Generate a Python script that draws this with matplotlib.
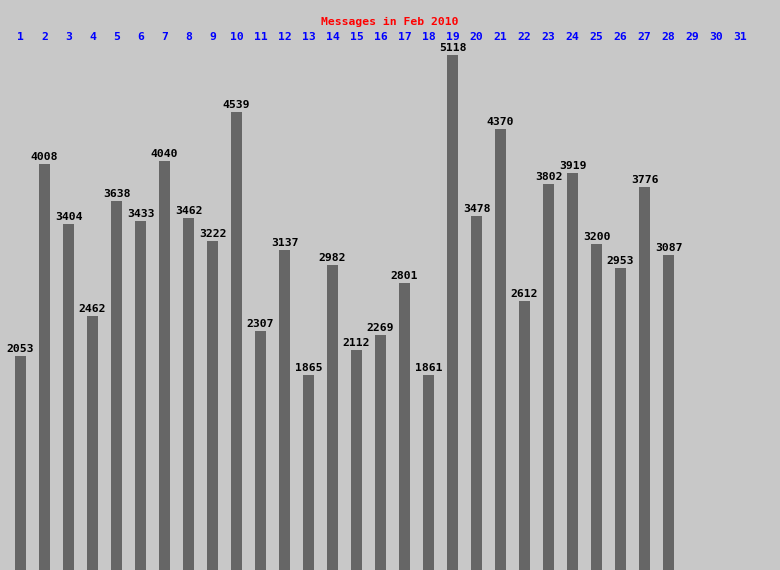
import matplotlib.pyplot as plt
import numpy as np

title = "Messages in Feb 2010"
days = list(range(1, 32))
counts = [2053, 4008, 3404, 2462, 3638, 3433, 4040, 3462, 3222, 4539,
          2307, 3137, 1865, 2982, 2112, 2269, 2801, 1861, 5118, 3478,
          4370, 2612, 3802, 3919, 3200, 2953, 3776, 3087]

W, H = 780, 570
fig = plt.figure(figsize=(W / 100, H / 100), dpi=100)
fig.patch.set_facecolor('#c8c8c8')
ax = fig.add_axes([0, 0, 1, 1])
ax.set_facecolor('#c8c8c8')
ax.axis('off')

# day d is centred at 20.5 + 24*(d-1) px
ax.set_xlim(1 - 20.5 / 24, 1 + (W - 20.5) / 24)
base = -124
ax.set_ylim(base, 5680)

font = dict(family='DejaVu Sans Mono', fontweight='bold', fontsize=8.2)

x = np.arange(1, len(counts) + 1)
vals = np.array(counts)
ax.bar(x, vals - base, bottom=base, width=11 / 24, color='#666666', linewidth=0)
for d, v in zip(x, counts):
    ax.annotate(str(v), (d, v), xytext=(0, 2), textcoords='offset pixels',
                ha='center', va='bottom', color='black', **font)

trans = ax.get_xaxis_transform()
for d in days:
    ax.text(d, 1 - 37 / H, str(d), transform=trans, ha='center', va='center',
            color='#0000ff', **font)

fig.text(390 / W, 1 - 22 / H, title, ha='center', va='center', color='#ff0000', **font)

fig.savefig('out.png', dpi=100, facecolor=fig.get_facecolor())
